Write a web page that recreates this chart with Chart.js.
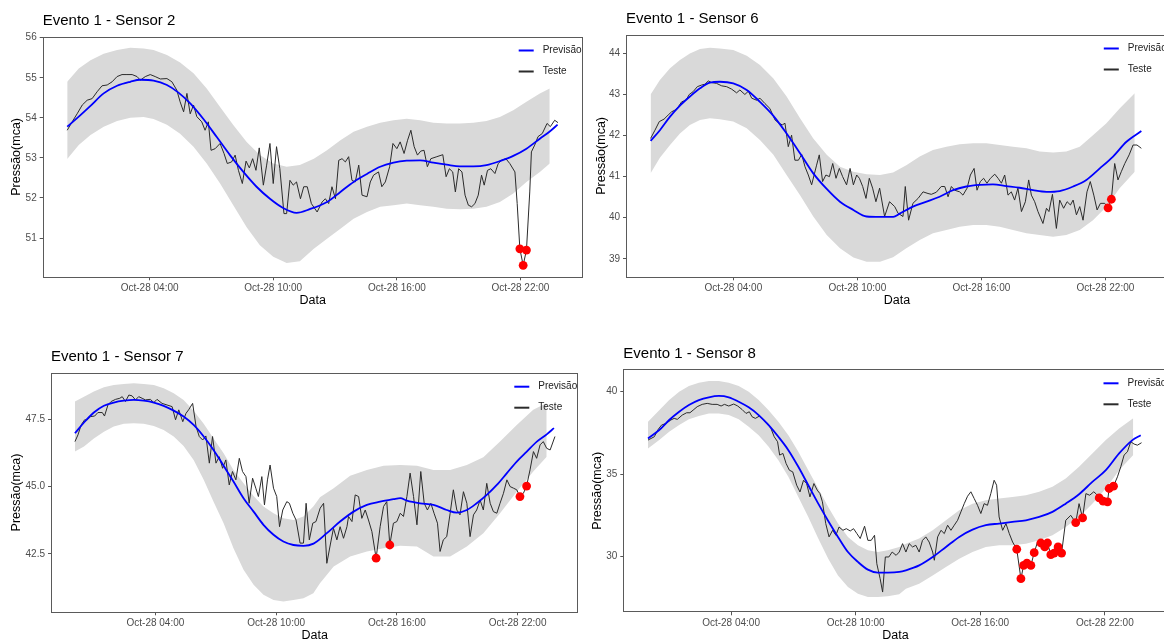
<!DOCTYPE html>
<html>
<head>
<meta charset="utf-8">
<script src="https://cdn.jsdelivr.net/npm/chart.js@4.4.1/dist/chart.umd.min.js"></script>
<style>
  html, body { margin: 0; padding: 0; background: #fff; width: 1164px; height: 641px; overflow: hidden; }
  body { position: relative; }
  .panel { position: absolute; }
</style>
</head>
<body>
<div class="panel" style="left:0;top:0"><canvas id="c2" width="590" height="310"></canvas></div>
<div class="panel" style="left:585px;top:0"><canvas id="c6" width="600" height="310"></canvas></div>
<div class="panel" style="left:0;top:340px"><canvas id="c7" width="590" height="305"></canvas></div>
<div class="panel" style="left:585px;top:340px"><canvas id="c8" width="600" height="305"></canvas></div>
<script>
// eixo x (horas do dia 28/10)
const hourTicks = [4, 10, 16, 22];
const hourLabels = ['Oct-28 04:00', 'Oct-28 10:00', 'Oct-28 16:00', 'Oct-28 22:00'];

// ---- Sensor 2 ----
const s2BandHours = [0,0.56,1.13,1.77,2.42,3.06,3.71,4.19,4.84,5.48,6.13,6.77,7.42,8.06,8.71,9.35,10.0,10.65,11.29,11.97,12.61,13.26,13.9,14.55,15.19,15.84,16.48,17.13,17.77,18.42,19.06,19.71,20.35,21.0,21.65,22.29,22.94,23.42];
const s2Upper = [54.9,55.23,55.44,55.6,55.69,55.75,55.73,55.69,55.57,55.38,55.11,54.73,54.27,53.82,53.4,53.07,52.86,52.78,52.82,52.98,53.19,53.44,53.65,53.78,53.88,53.94,53.98,53.94,53.88,53.86,53.86,53.88,53.92,54.02,54.19,54.4,54.61,54.73];
const s2Lower = [52.97,53.32,53.57,53.78,53.92,54.0,54.02,53.97,53.83,53.6,53.28,52.86,52.36,51.82,51.27,50.82,50.53,50.38,50.42,50.73,50.98,51.23,51.48,51.65,51.78,51.82,51.86,51.82,51.78,51.73,51.72,51.73,51.78,51.9,52.11,52.4,52.65,52.86];
const s2PredHours = [0,0.56,1.13,1.77,2.42,3.06,3.55,4.19,4.84,5.4,5.97,6.61,7.26,7.9,8.55,9.19,9.84,10.48,11.13,11.77,12.61,13.26,13.9,14.55,15.19,15.84,16.48,17.13,17.77,18.42,19.06,19.71,20.35,21.0,21.65,22.29,22.94,23.42,23.8];
const s2Pred = [53.78,54.03,54.3,54.61,54.8,54.9,54.95,54.93,54.82,54.63,54.36,53.97,53.52,53.07,52.65,52.28,51.98,51.75,51.63,51.72,51.9,52.15,52.4,52.6,52.78,52.88,52.93,52.94,52.88,52.83,52.79,52.79,52.82,52.92,53.05,53.23,53.48,53.66,53.83];
const s2TestHours = [0,0.24,0.48,0.73,0.97,1.21,1.45,1.69,1.94,2.18,2.42,2.66,2.9,3.15,3.39,3.55,3.79,4.03,4.27,4.52,4.84,5.08,5.32,5.48,5.65,5.81,5.97,6.13,6.29,6.53,6.69,6.85,6.98,7.18,7.42,7.61,7.77,7.98,8.15,8.31,8.5,8.68,8.84,9.0,9.16,9.32,9.52,9.68,9.84,10.0,10.16,10.32,10.52,10.65,10.81,10.97,11.13,11.32,11.48,11.65,11.85,12.13,12.37,12.53,12.69,12.85,13.02,13.18,13.34,13.5,13.66,13.82,13.98,14.15,14.31,14.55,14.71,14.87,15.11,15.27,15.44,15.65,15.81,16.0,16.16,16.35,16.52,16.68,16.84,17.0,17.16,17.32,17.48,17.65,17.94,18.23,18.39,18.55,18.71,18.84,19.0,19.16,19.31,19.47,19.63,19.79,19.95,20.11,20.24,20.4,20.56,20.76,20.92,21.08,21.29,21.48,21.73,21.84,21.97,22.13,22.29,22.45,22.53,22.69,22.85,23.06,23.29,23.45,23.66,23.82];
const s2Test = [53.69,53.9,54.1,54.32,54.44,54.48,54.65,54.8,54.82,54.9,55.03,55.08,55.08,55.08,55.03,54.94,55.03,55.08,55.03,54.97,54.98,54.9,54.69,54.4,54.15,54.61,54.1,54.32,54.03,53.9,53.69,53.9,53.19,53.23,53.36,53.11,52.86,52.9,53.07,52.69,52.36,52.92,52.75,52.98,52.69,53.25,52.32,52.82,53.36,52.36,53.28,52.73,51.61,51.61,52.44,52.32,52.4,51.98,52.28,52.28,51.86,51.65,51.9,51.98,51.86,52.28,51.98,52.94,52.98,52.9,53.03,52.44,52.4,52.82,52.07,52.03,52.4,52.57,52.65,52.28,52.4,52.78,53.36,53.23,53.4,53.11,53.44,53.69,53.28,53.07,53.17,53.19,52.78,52.98,53.03,53.08,52.53,52.73,52.65,52.15,52.73,52.65,52.07,51.82,51.78,51.86,52.07,52.57,52.32,52.69,52.73,52.61,52.86,52.94,52.98,52.86,52.65,51.86,50.73,50.32,50.7,52.15,53.15,53.32,53.53,53.61,53.86,53.78,53.94,53.88];
const s2AlertHours = [21.97, 22.13, 22.29];
const s2Alert = [50.73, 50.32, 50.7];
const s2YTicks = [51, 52, 53, 54, 55, 56];

// ---- Sensor 6 ----
const s6BandHours = [0,0.45,0.94,1.42,1.9,2.39,2.87,3.35,4.0,4.65,5.29,5.94,6.58,7.23,7.87,8.52,9.16,9.81,10.45,11.1,11.73,12.37,13.02,13.66,14.31,14.95,15.6,16.24,16.89,17.53,18.18,18.82,19.47,20.11,20.76,21.4,22.05,22.69,23.42];
const s6Upper = [43.0,43.35,43.64,43.84,44.0,44.11,44.14,44.12,44.08,43.94,43.72,43.39,42.95,42.42,41.93,41.53,41.24,41.12,41.06,41.04,41.1,41.28,41.49,41.65,41.73,41.79,41.81,41.81,41.77,41.73,41.69,41.61,41.59,41.61,41.73,42.01,42.3,42.66,43.03];
const s6Lower = [41.08,41.46,41.77,42.05,42.26,42.38,42.42,42.4,42.34,42.18,41.89,41.53,41.04,40.55,40.03,39.58,39.26,39.03,38.93,38.93,39.04,39.26,39.46,39.62,39.7,39.78,39.82,39.82,39.78,39.7,39.62,39.58,39.54,39.58,39.7,39.94,40.27,40.72,41.12];
const s6PredHours = [0,0.45,0.94,1.42,1.9,2.39,2.87,3.35,4.0,4.65,5.29,5.94,6.58,7.23,7.87,8.52,9.16,9.81,10.45,11.1,11.74,12.05,12.69,13.35,13.98,14.63,15.27,15.92,16.56,17.21,17.85,18.5,19.15,19.79,20.44,21.08,21.73,22.37,23.02,23.74];
const s6Pred = [41.87,42.13,42.46,42.73,42.95,43.15,43.29,43.31,43.27,43.11,42.82,42.48,42.05,41.57,41.08,40.7,40.39,40.19,40.03,40.02,40.02,40.1,40.27,40.39,40.51,40.67,40.76,40.8,40.81,40.77,40.73,40.67,40.63,40.65,40.76,40.92,41.2,41.49,41.85,42.11];
const s6TestHours = [0,0.21,0.42,0.65,0.85,1.02,1.18,1.34,1.5,1.71,1.87,2.06,2.26,2.47,2.63,2.79,2.95,3.19,3.44,3.68,3.92,4.16,4.32,4.56,4.73,4.89,5.13,5.29,5.53,5.77,6.02,6.21,6.37,6.5,6.66,6.82,6.98,7.15,7.31,7.47,7.63,7.79,8.03,8.16,8.32,8.48,8.65,8.81,8.97,9.13,9.29,9.48,9.65,9.81,9.97,10.1,10.26,10.42,10.58,10.74,10.9,11.08,11.32,11.56,11.81,11.97,12.21,12.32,12.48,12.69,12.94,13.18,13.42,13.58,13.82,14.06,14.23,14.39,14.55,14.71,14.95,15.11,15.31,15.47,15.65,15.79,15.95,16.11,16.27,16.44,16.65,16.81,16.97,17.13,17.29,17.45,17.61,17.77,17.94,18.13,18.29,18.42,18.58,18.74,18.98,19.15,19.27,19.44,19.63,19.79,19.98,20.15,20.31,20.44,20.6,20.76,20.92,21.11,21.27,21.44,21.6,21.76,21.97,22.13,22.29,22.45,22.61,22.77,22.94,23.15,23.34,23.53,23.74];
const s6Test = [41.93,42.13,42.34,42.4,42.5,42.58,42.62,42.7,42.82,42.86,43.0,43.07,43.19,43.23,43.25,43.33,43.29,43.27,43.21,43.19,43.13,43.04,43.11,43.0,43.08,42.91,42.86,42.91,42.78,42.66,42.38,42.3,42.26,42.3,41.73,42.01,41.4,41.4,41.54,41.24,41.04,40.8,41.28,41.53,40.88,41.04,41.0,41.32,40.96,41.2,41.0,40.8,41.2,40.8,41.04,40.96,40.76,40.47,40.96,40.72,40.39,40.72,40.03,40.39,40.27,40.11,40.03,40.76,39.94,40.35,40.47,40.63,40.59,40.57,40.62,40.76,40.76,40.51,40.76,40.67,40.63,40.55,40.72,41.04,41.2,40.67,40.88,40.96,40.84,40.96,41.06,40.96,40.84,41.04,40.55,40.63,40.43,40.72,40.15,40.39,40.92,40.55,40.39,40.15,39.86,40.23,40.15,40.57,39.74,40.43,40.23,40.39,40.31,40.43,40.07,40.27,39.94,40.63,40.88,40.55,40.19,40.35,40.35,40.24,40.45,41.32,40.92,41.12,41.32,41.53,41.77,41.77,41.69];
const s6AlertHours = [22.13, 22.29];
const s6Alert = [40.24, 40.45];
const s6YTicks = [39, 40, 41, 42, 43, 44];

// ---- Sensor 7 ----
const s7BandHours = [0,0.45,0.94,1.44,1.93,2.43,2.93,3.42,3.92,4.41,4.91,5.4,5.9,6.4,6.89,7.39,7.88,8.38,8.88,9.37,9.87,10.36,10.86,11.36,11.85,12.18,12.86,13.68,14.51,15.34,16.17,17.0,17.82,18.65,19.48,20.3,21.13,21.96,22.78,23.45];
const s7Upper = [48.16,48.34,48.53,48.69,48.77,48.81,48.84,48.81,48.77,48.65,48.47,48.22,47.82,47.33,46.79,46.24,45.62,45.12,44.65,44.26,44.01,43.82,43.76,43.89,44.26,44.6,44.94,45.4,45.62,45.77,45.8,45.77,45.62,45.62,45.8,46.09,46.67,47.29,47.85,48.1];
const s7Lower = [46.3,46.49,46.79,47.04,47.23,47.33,47.35,47.33,47.25,47.1,46.86,46.51,45.99,45.25,44.44,43.64,42.71,41.91,41.35,40.98,40.79,40.73,40.79,40.85,41.04,41.41,42.03,42.4,42.59,42.71,42.8,42.77,42.4,42.4,42.77,43.27,44.01,44.81,45.56,46.11];
const s7PredHours = [0,0.45,0.94,1.44,1.93,2.43,2.93,3.42,3.92,4.41,4.91,5.4,5.9,6.4,6.89,7.39,7.88,8.38,8.88,9.37,9.87,10.36,10.86,11.36,11.86,12.52,13.18,13.85,14.51,15.17,15.83,16.17,16.5,17.16,17.82,18.48,18.98,19.48,19.97,20.47,20.97,21.47,21.96,22.46,22.96,23.45,23.81];
const s7Pred = [46.98,47.38,47.75,48.0,48.12,48.19,48.22,48.19,48.12,48.0,47.82,47.6,47.29,46.86,46.36,45.77,45.19,44.57,44.07,43.58,43.21,42.96,42.83,42.8,42.88,43.27,43.7,44.07,44.32,44.44,44.53,44.57,44.48,44.38,44.32,44.13,44.03,44.13,44.38,44.69,45.06,45.5,45.93,46.3,46.67,46.94,47.17];
const s7TestHours = [0,0.15,0.31,0.48,0.61,0.78,0.98,1.14,1.36,1.47,1.64,1.8,2.02,2.23,2.35,2.51,2.68,2.84,3.01,3.17,3.34,3.5,3.75,3.92,4.08,4.33,4.58,4.83,5.0,5.16,5.36,5.52,5.65,5.85,6.02,6.18,6.35,6.51,6.68,6.84,7.01,7.17,7.34,7.5,7.67,7.83,8.0,8.17,8.33,8.5,8.66,8.83,8.99,9.12,9.29,9.42,9.57,9.7,9.87,10.03,10.17,10.33,10.53,10.66,10.83,10.99,11.19,11.36,11.49,11.65,11.82,11.98,12.19,12.36,12.52,12.69,12.85,13.02,13.18,13.35,13.52,13.6,13.77,13.93,14.1,14.26,14.43,14.59,14.76,14.97,15.17,15.34,15.5,15.65,15.83,16.0,16.17,16.33,16.5,16.66,16.83,17.0,17.19,17.36,17.52,17.69,17.85,18.02,18.15,18.31,18.48,18.65,18.81,18.98,19.14,19.31,19.48,19.64,19.81,19.97,20.14,20.3,20.47,20.64,20.8,20.97,21.13,21.3,21.47,21.63,21.8,21.96,22.12,22.29,22.45,22.62,22.79,22.95,23.12,23.28,23.45,23.62,23.86];
const s7Test = [46.67,46.92,47.29,47.48,47.48,47.6,47.62,47.75,47.75,47.62,48.03,48.16,48.24,48.28,48.34,48.16,48.4,48.37,48.22,48.34,48.28,48.22,48.24,48.12,48.24,48.09,48.03,47.97,47.48,47.85,47.41,47.72,47.85,48.09,47.23,46.86,46.73,46.88,45.87,46.86,45.87,46.11,45.68,45.99,45.06,45.56,45.25,46.05,45.56,45.37,44.38,45.31,44.94,44.63,45.37,44.32,45.25,45.8,44.94,44.63,43.51,44.13,44.44,44.38,44.01,43.76,42.9,42.9,44.38,43.02,43.64,43.7,44.2,44.38,42.15,42.83,43.45,43.02,43.51,43.08,43.51,43.89,43.7,44.69,44.63,43.82,44.13,43.76,43.33,42.34,43.51,44.26,44.44,42.83,43.64,43.7,44.01,43.89,44.63,45.5,44.63,43.58,45.56,44.38,44.13,44.38,44.01,43.64,42.59,43.02,43.14,44.01,44.88,44.13,43.95,44.81,44.38,43.14,43.95,44.13,44.5,44.13,45.12,44.38,44.07,44.01,44.38,44.75,45.25,45.0,44.94,44.88,44.63,44.75,45.02,45.62,46.3,46.05,46.55,46.67,46.42,46.36,46.86];
const s7AlertHours = [14.97, 15.65, 22.12, 22.45];
const s7Alert = [42.34, 42.83, 44.63, 45.02];
const s7YTicks = [42.5, 45.0, 47.5];

// ---- Sensor 8 ----
const s8BandHours = [0,0.54,1.02,1.5,1.97,2.45,2.93,3.41,3.89,4.37,4.85,5.33,5.81,6.28,6.76,7.24,7.72,8.2,8.68,9.15,9.63,10.11,10.59,11.07,11.55,12.1,12.42,13.06,13.71,14.35,14.99,15.63,16.27,16.91,17.55,18.2,18.84,19.48,20.12,20.76,21.4,22.05,22.69,23.37];
const s8Upper = [38.17,38.88,39.49,40.0,40.34,40.55,40.65,40.65,40.55,40.34,40.0,39.49,38.88,38.17,37.36,36.35,35.23,34.12,33.0,31.99,31.18,30.67,30.37,30.26,30.37,30.57,30.77,31.08,31.59,32.19,32.8,33.2,33.41,33.51,33.61,33.71,33.92,34.22,34.73,35.44,36.25,37.06,37.77,38.38];
const s8Lower = [36.55,37.06,37.57,37.97,38.32,38.52,38.68,38.68,38.58,38.32,37.87,37.36,36.65,35.84,34.83,33.61,32.39,31.08,29.86,28.84,28.13,27.73,27.53,27.53,27.57,27.69,28.03,28.34,28.84,29.35,29.86,30.26,30.57,30.67,30.67,30.77,30.97,31.28,31.78,32.39,33.2,34.12,35.23,36.15];
const s8PredHours = [0,0.54,1.02,1.5,1.97,2.45,2.93,3.41,3.89,4.37,4.85,5.33,5.81,6.28,6.76,7.24,7.72,8.2,8.68,9.15,9.63,10.11,10.59,11.07,11.55,12.1,12.42,13.06,13.71,14.35,14.99,15.63,16.27,16.91,17.55,18.2,18.84,19.48,20.12,20.76,21.4,22.05,22.69,23.33,23.73];
const s8Pred = [37.16,37.67,38.28,38.78,39.19,39.49,39.66,39.74,39.66,39.39,39.05,38.58,37.97,37.26,36.45,35.44,34.32,33.2,32.15,31.18,30.26,29.66,29.19,29.01,29.01,29.05,29.15,29.45,29.96,30.57,31.18,31.62,31.89,31.99,32.09,32.19,32.39,32.7,33.2,33.77,34.52,35.23,36.25,37.06,37.36];
const s8TestHours = [0,0.3,0.49,0.65,0.86,1.1,1.26,1.41,1.65,1.86,2.02,2.21,2.37,2.61,2.85,3.09,3.33,3.52,3.68,3.89,4.13,4.32,4.53,4.72,4.88,5.01,5.17,5.37,5.56,5.76,5.92,6.08,6.24,6.34,6.5,6.65,6.81,6.97,7.16,7.32,7.49,7.64,7.8,7.99,8.15,8.28,8.4,8.56,8.72,8.89,9.05,9.2,9.39,9.55,9.74,9.9,10.06,10.22,10.43,10.59,10.75,10.91,11.02,11.18,11.3,11.43,11.6,11.76,11.95,12.1,12.26,12.42,12.58,12.74,12.9,13.06,13.22,13.38,13.54,13.71,13.79,13.95,14.11,14.27,14.43,14.59,14.75,14.91,15.07,15.23,15.39,15.55,15.71,15.87,16.03,16.19,16.35,16.51,16.67,16.79,16.91,17.08,17.24,17.4,17.56,17.76,17.96,18.09,18.25,18.44,18.6,18.76,18.92,19.11,19.24,19.4,19.56,19.75,19.92,20.12,20.36,20.6,20.76,20.93,21.09,21.27,21.47,21.6,21.73,21.92,22.13,22.21,22.42,22.61,22.77,22.93,23.09,23.25,23.41,23.57,23.77];
const s8Test = [37.06,37.26,37.71,37.97,38.07,38.28,38.38,38.32,38.58,38.72,38.72,38.92,39.09,39.23,39.29,39.23,39.23,39.13,39.23,39.13,39.25,39.13,38.92,38.68,38.78,38.48,38.38,38.52,38.28,38.07,37.77,37.26,36.96,36.15,36.25,35.64,35.23,35.13,34.32,33.91,34.62,34.42,33.61,34.42,34.02,33.81,33.31,31.99,31.18,31.58,31.28,31.78,31.58,31.68,31.54,31.68,31.38,31.08,31.83,30.97,30.97,31.28,29.55,28.64,27.83,29.96,29.96,30.26,30.06,30.26,30.77,30.26,30.77,30.57,30.67,30.26,30.97,31.18,30.87,30.26,29.76,31.18,31.58,31.38,31.89,31.58,31.89,32.19,32.7,33.2,33.65,33.92,33.51,33.1,32.6,33.2,33.1,33.81,34.62,34.32,32.39,31.58,31.99,31.38,30.87,30.43,28.64,29.45,29.59,29.45,30.22,30.87,30.81,30.57,30.81,30.1,30.2,30.57,30.2,32.19,32.49,32.05,33.2,32.33,33.81,33.71,33.92,33.77,33.55,33.35,33.31,34.12,34.26,34.83,35.44,36.15,36.35,36.96,36.82,36.75,36.9];
const s8AlertHours = [17.76,17.96,18.09,18.25,18.44,18.6,18.92,19.11,19.24,19.4,19.56,19.75,19.92,20.6,20.93,21.73,21.92,22.13,22.21,22.42];
const s8Alert = [30.43,28.64,29.45,29.59,29.45,30.22,30.81,30.57,30.81,30.1,30.2,30.57,30.2,32.05,32.33,33.55,33.35,33.31,34.12,34.26];
const s8YTicks = [30, 35, 40];

Chart.defaults.font.family = '"Liberation Sans", Arial, sans-serif';

const pairs = (xs, ys) => xs.map((x, i) => ({ x, y: ys[i] }));

// moldura, titulo e legenda no estilo ggplot
const panelDecor = {
  id: 'panelDecor',
  afterDraw(chart, args, opts) {
    const { ctx, chartArea: a } = chart;
    ctx.save();
    ctx.strokeStyle = '#5a5a5a';
    ctx.lineWidth = 1;
    ctx.strokeRect(Math.round(a.left) + 0.5, Math.round(a.top) + 0.5,
      Math.round(a.width) - 1, Math.round(a.height) - 1);

    ctx.fillStyle = '#000';
    ctx.font = '15px "Liberation Sans", Arial, sans-serif';
    ctx.textBaseline = 'middle';
    ctx.textAlign = 'left';
    ctx.fillText(opts.title, a.left, a.top - 15.5);

    const items = chart.data.datasets.filter(d => d.inLegend).sort((p, q) => p.order - q.order);
    ctx.font = '10px "Liberation Sans", Arial, sans-serif';
    items.forEach((d, i) => {
      const y = a.top + 14 + i * 21;
      ctx.strokeStyle = d.borderColor;
      ctx.lineWidth = 2;
      ctx.beginPath();
      ctx.moveTo(a.right - 64, y);
      ctx.lineTo(a.right - 49, y);
      ctx.stroke();
      ctx.fillStyle = '#222';
      ctx.fillText(d.label, a.right - 40, y);
    });
    ctx.restore();
  }
};

function buildPanel(p) {
  const canvas = document.getElementById(p.id);
  const w = canvas.width, h = canvas.height;
  return new Chart(canvas, {
    type: 'line',
    data: {
      datasets: [
        { label: 'sup', data: pairs(p.bandHours, p.upper), fill: '+1', backgroundColor: '#d9d9d9',
          borderColor: 'rgba(0,0,0,0)', borderWidth: 0, pointRadius: 0, order: 5 },
        { label: 'inf', data: pairs(p.bandHours, p.lower), fill: false,
          borderColor: 'rgba(0,0,0,0)', borderWidth: 0, pointRadius: 0, order: 5 },
        { label: 'Teste', data: pairs(p.testHours, p.test), borderColor: '#2b2b2b', borderWidth: 1,
          pointRadius: 0, tension: 0, order: 2, inLegend: true },
        { label: 'Previsão', data: pairs(p.predHours, p.pred), borderColor: '#0000ff', borderWidth: 1.8,
          pointRadius: 0, cubicInterpolationMode: 'monotone', order: 1, inLegend: true },
        { label: 'alerta', data: pairs(p.alertHours, p.alert), showLine: false, pointRadius: 4.4,
          pointBackgroundColor: '#ff0000', pointBorderWidth: 0, order: 0 }
      ]
    },
    options: {
      responsive: false,
      animation: false,
      events: [],
      layout: { padding: { left: 0, top: p.area.t, right: w - p.area.r, bottom: 0 } },
      plugins: {
        legend: { display: false },
        tooltip: { enabled: false },
        panelDecor: { title: p.title }
      },
      scales: {
        x: {
          type: 'linear', min: -1.19, max: 25.02,
          afterBuildTicks: s => { s.ticks = hourTicks.map(v => ({ value: v })); },
          afterFit: s => { s.height = h - p.area.b; },
          ticks: {
            callback: v => hourLabels[hourTicks.indexOf(v)],
            color: '#4d4d4d', font: { size: 10 }, padding: 2, maxRotation: 0, autoSkip: false
          },
          grid: { drawOnChartArea: false, drawTicks: true, tickLength: 3, tickColor: '#555' },
          border: { display: false },
          title: { display: true, text: 'Data', color: '#000', font: { size: 12.5 }, padding: { top: 0, bottom: 2 } }
        },
        y: {
          type: 'linear', min: p.yMin, max: p.yMax,
          afterBuildTicks: s => { s.ticks = p.yTicks.map(v => ({ value: v })); },
          afterFit: s => { s.width = p.area.l; },
          ticks: {
            callback: v => v.toFixed(p.decimals),
            color: '#4d4d4d', font: { size: 10 }, padding: 3
          },
          grid: { drawOnChartArea: false, drawTicks: true, tickLength: 3, tickColor: '#555' },
          border: { display: false },
          title: { display: true, text: 'Pressão(mca)', color: '#000', font: { size: 12.5 },
            padding: { top: p.yTitleX - 7.5, bottom: 0 } }
        }
      }
    },
    plugins: [panelDecor]
  });
}

buildPanel({ id: 'c2', title: 'Evento 1 - Sensor 2', area: { l: 42.7, t: 36.5, r: 582.7, b: 277.3 },
  yMin: 50.02, yMax: 56.03, yTicks: s2YTicks, decimals: 0, yTitleX: 16.5,
  bandHours: s2BandHours, upper: s2Upper, lower: s2Lower, predHours: s2PredHours, pred: s2Pred,
  testHours: s2TestHours, test: s2Test, alertHours: s2AlertHours, alert: s2Alert });

buildPanel({ id: 'c6', title: 'Evento 1 - Sensor 6', area: { l: 41, t: 34.5, r: 582.8, b: 277.3 },
  yMin: 38.55, yMax: 44.46, yTicks: s6YTicks, decimals: 0, yTitleX: 16.6,
  bandHours: s6BandHours, upper: s6Upper, lower: s6Lower, predHours: s6PredHours, pred: s6Pred,
  testHours: s6TestHours, test: s6Test, alertHours: s6AlertHours, alert: s6Alert });

buildPanel({ id: 'c7', title: 'Evento 1 - Sensor 7', area: { l: 51, t: 32.7, r: 578.3, b: 272.3 },
  yMin: 40.33, yMax: 49.23, yTicks: s7YTicks, decimals: 1, yTitleX: 17,
  bandHours: s7BandHours, upper: s7Upper, lower: s7Lower, predHours: s7PredHours, pred: s7Pred,
  testHours: s7TestHours, test: s7Test, alertHours: s7AlertHours, alert: s7Alert });

buildPanel({ id: 'c8', title: 'Evento 1 - Sensor 8', area: { l: 38.3, t: 29.3, r: 582.5, b: 272.3 },
  yMin: 26.6, yMax: 41.36, yTicks: s8YTicks, decimals: 0, yTitleX: 12.9,
  bandHours: s8BandHours, upper: s8Upper, lower: s8Lower, predHours: s8PredHours, pred: s8Pred,
  testHours: s8TestHours, test: s8Test, alertHours: s8AlertHours, alert: s8Alert });
</script>
</body>
</html>
